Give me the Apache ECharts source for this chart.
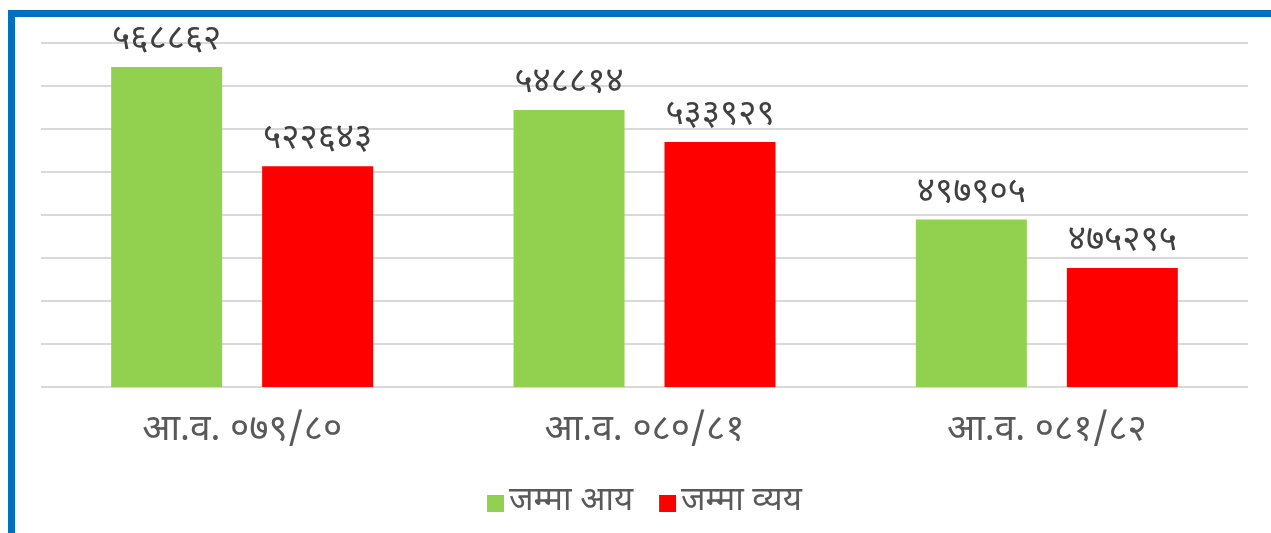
<!DOCTYPE html>
<html>
<head>
<meta charset="utf-8">
<script src="https://cdn.jsdelivr.net/npm/echarts@6/dist/echarts.min.js"></script>
<style>
  html, body { margin: 0; padding: 0; background: #fff; }
  #frame {
    position: absolute; left: 8px; top: 10px; width: 1263px; height: 523px;
    border-left: 7px solid #0070C0; border-top: 7px solid #0070C0;
    box-sizing: border-box;
  }
  #chart { position: absolute; left: 0; top: 0; width: 1271px; height: 533px; }
</style>
</head>
<body>
<div id="frame"></div>
<div id="chart"></div>
<script>
// Fiscal years and totals (NPR)
const categories = ['आ.व. ०७९/८०', 'आ.व. ०८०/८१', 'आ.व. ०८१/८२'];
const seriesNames = ['जम्मा आय', 'जम्मा व्यय'];
const income = [568862, 548814, 497905];
const expenditure = [522643, 533929, 475295];

const devDigits = '०१२३४५६७८९';
function toDevanagari(n) {
  return String(n).replace(/[0-9]/g, d => devDigits[+d]);
}

const font = "'Noto Sans Devanagari', 'Noto Sans', 'Lohit Devanagari', sans-serif";

const chart = echarts.init(document.getElementById('chart'), null, { renderer: 'canvas' });
const labelStyle = {
  show: true, position: 'top', distance: 7,
  color: '#404040', fontSize: 35, fontFamily: font,
  formatter: p => toDevanagari(p.value)
};
chart.setOption({
  animation: false,
  grid: { left: 41, right: 23, top: 43, bottom: 146 },
  legend: {
    data: seriesNames, bottom: 8, left: 482,
    itemWidth: 17, itemHeight: 17, itemGap: 26,
    icon: 'rect',
    textStyle: { color: '#595959', fontSize: 33, fontFamily: font }
  },
  xAxis: {
    type: 'category', data: categories,
    axisLine: { show: false }, axisTick: { show: false },
    axisLabel: { color: '#595959', fontSize: 37, fontFamily: font, margin: 28 }
  },
  yAxis: {
    type: 'value', min: 420000, max: 580000, interval: 20000,
    axisLabel: { show: false }, axisLine: { show: false }, axisTick: { show: false },
    splitLine: { lineStyle: { color: '#d9d9d9', width: 2 } }
  },
  series: [
    { name: seriesNames[0], type: 'bar', data: income, barWidth: 111, barGap: '36%',
      itemStyle: { color: '#92D050' }, label: labelStyle },
    { name: seriesNames[1], type: 'bar', data: expenditure, barWidth: 111,
      itemStyle: { color: '#FF0000' }, label: labelStyle }
  ]
});
</script>
</body>
</html>
